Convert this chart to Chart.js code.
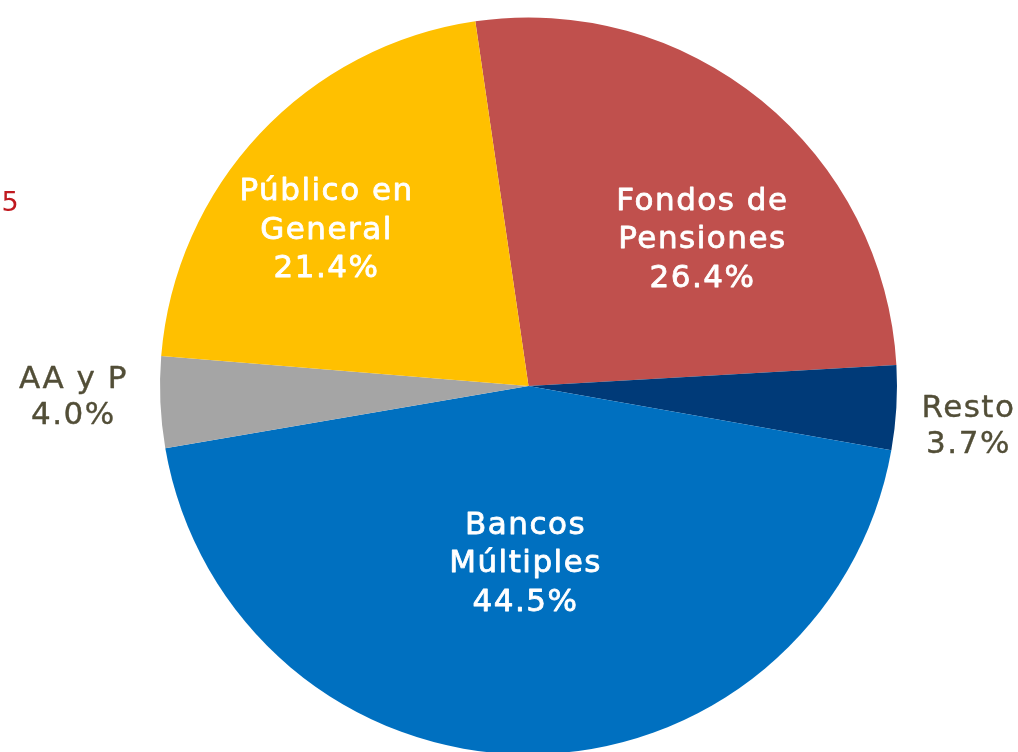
<!DOCTYPE html>
<html>
<head>
<meta charset="utf-8">
<script src="https://cdn.jsdelivr.net/npm/chart.js@4/dist/chart.umd.min.js"></script>
<style>
  html, body { margin: 0; padding: 0; background: #fff; overflow: hidden; }
  #wrap { position: relative; width: 1018px; height: 760px; }
  #cut { position: absolute; left: 10px; top: 201px; transform: translate(-50%, -50%);
         font: 27px "DejaVu Sans", sans-serif; color: #c0191f; }
</style>
</head>
<body>
<div id="wrap">
  <canvas id="pie" width="1018" height="760"></canvas>
  <div id="cut">5</div>
</div>
<script>
const categories = ["Fondos de Pensiones", "Resto", "Bancos Múltiples", "AA y P", "Público en General"];
const shares = [26.4, 3.7, 44.5, 4.0, 21.4];
const colors = ["#c0504d", "#003a78", "#0070c0", "#a5a5a5", "#ffc000"];

// label text lines per slice, last line is the share
const labelLines = [
    ["Fondos de", "Pensiones"],
    ["Resto"],
    ["Bancos", "Múltiples"],
    ["AA y P"],
    ["Público en", "General"],
];
// label centre as a fraction of the radius from the pie centre
const labelPos = [
    [0.472, -0.396],
    [1.194, 0.112],
    [-0.008, 0.483],
    [-1.235, 0.032],
    [-0.548, -0.421],
];

const sliceLabels = {
    id: "sliceLabels",
    afterDatasetsDraw(chart) {
        const ctx = chart.ctx;
        const arcs = chart.getDatasetMeta(0).data;
        ctx.save();
        ctx.textAlign = "center";
        ctx.textBaseline = "middle";
        ctx.lineJoin = "round";
        arcs.forEach((arc, i) => {
            const lines = labelLines[i].concat(shares[i].toFixed(1) + "%");
            const inside = Math.abs(labelPos[i][0]) < 1;
            ctx.font = "31px 'DejaVu Sans'";
            ctx.letterSpacing = "1.5px";
            ctx.fillStyle = ctx.strokeStyle = inside ? "#ffffff" : "#524e37";
            ctx.lineWidth = inside ? 0.8 : 0.4;
            const lh = inside ? 38.5 : 36;
            const cx = arc.x + arc.outerRadius * labelPos[i][0];
            const cy = arc.y + arc.outerRadius * labelPos[i][1];
            lines.forEach((t, k) => {
                const y = cy + (k - (lines.length - 1) / 2) * lh;
                ctx.fillText(t, cx, y);
                ctx.strokeText(t, cx, y);
            });
        });
        ctx.restore();
    },
};

new Chart(document.getElementById("pie"), {
    type: "pie",
    data: {
        labels: categories,
        datasets: [{ data: shares, backgroundColor: colors, borderWidth: 0 }],
    },
    options: {
        responsive: false,
        animation: false,
        rotation: -8.3,
        layout: { padding: { left: 160, right: 121, top: 17.5, bottom: 5.5 } },
        plugins: { legend: { display: false }, tooltip: { enabled: false } },
    },
    plugins: [sliceLabels],
});
</script>
</body>
</html>
